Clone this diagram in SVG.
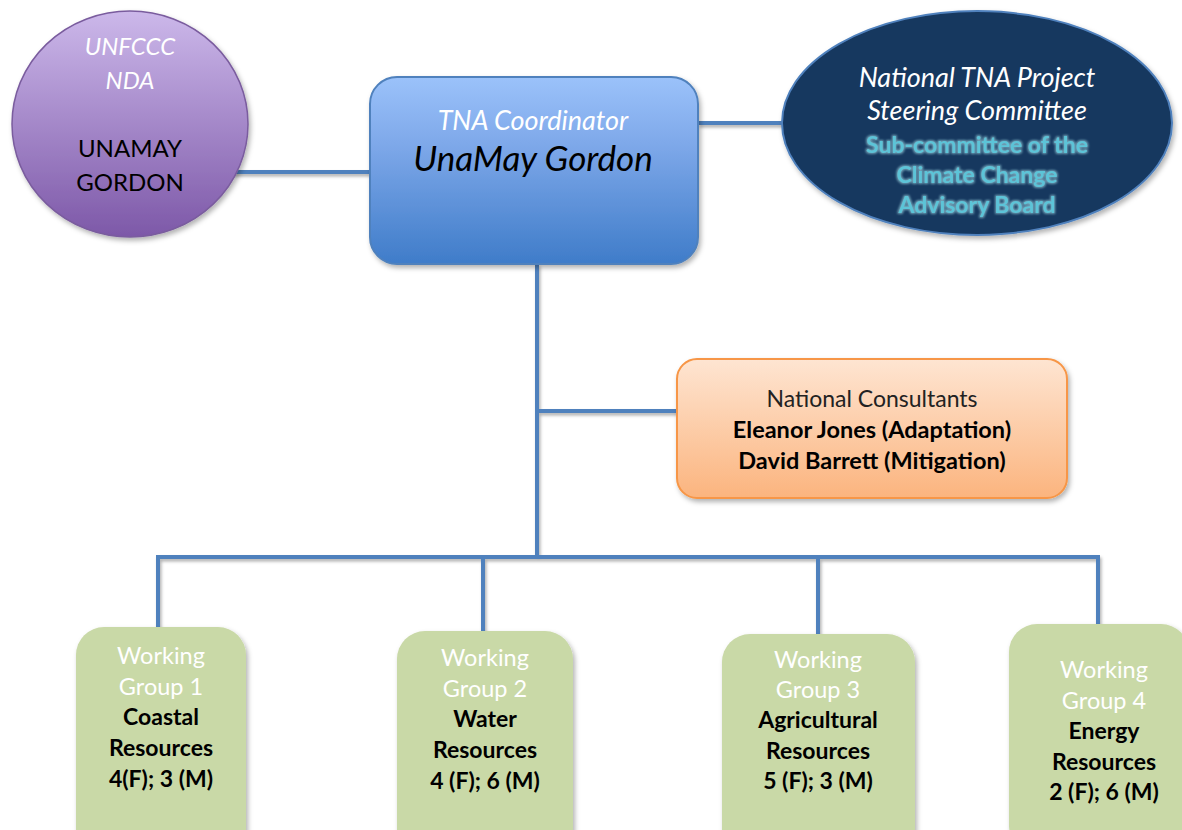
<svg xmlns="http://www.w3.org/2000/svg" width="1182" height="830" viewBox="0 0 1182 830">
<style>
.f{font-family:Lato,"Open Sans","Liberation Sans",sans-serif;text-anchor:middle}
.w{fill:#ffffff}
.k{fill:#000000}
.b{font-weight:bold}
.i{font-style:italic}
.conn{stroke:#4F81BD;stroke-width:4;fill:none}
.wg{fill:#C9D9A7;filter:url(#sh)}
.cy{fill:#5BC4D8;font-weight:bold;filter:url(#glow)}
</style>
<defs>
<linearGradient id="gp" x1="0" y1="0" x2="0" y2="1">
<stop offset="0" stop-color="#CCB8EA"/><stop offset="1" stop-color="#7D58A8"/>
</linearGradient>
<linearGradient id="gb" x1="0" y1="0" x2="0" y2="1">
<stop offset="0" stop-color="#9BC2FA"/><stop offset="0.35" stop-color="#7FA9EA"/><stop offset="1" stop-color="#3F7CC9"/>
</linearGradient>
<linearGradient id="go" x1="0" y1="0" x2="0" y2="1">
<stop offset="0" stop-color="#FEE5D2"/><stop offset="1" stop-color="#FBB47E"/>
</linearGradient>
<filter id="sh" x="-10%" y="-10%" width="130%" height="130%">
<feDropShadow dx="2" dy="3" stdDeviation="2.5" flood-color="#000" flood-opacity="0.3"/>
</filter>
<filter id="lsh" filterUnits="userSpaceOnUse" x="0" y="0" width="1182" height="830">
<feDropShadow dx="1.5" dy="2.5" stdDeviation="1.5" flood-color="#000" flood-opacity="0.3"/>
</filter>
<filter id="glow" x="-10%" y="-30%" width="120%" height="160%">
<feMorphology in="SourceAlpha" operator="dilate" radius="1" result="d"/>
<feGaussianBlur in="d" stdDeviation="1" result="bl"/>
<feFlood flood-color="#A8E4EE" flood-opacity="0.6"/>
<feComposite in2="bl" operator="in" result="g"/>
<feMerge><feMergeNode in="g"/><feMergeNode in="SourceGraphic"/></feMerge>
</filter>
</defs>

<g id="connectors" filter="url(#lsh)">
<line class="conn" x1="232" y1="172" x2="370" y2="172"/>
<line class="conn" x1="698" y1="123" x2="783" y2="123"/>
<line class="conn" x1="537" y1="264" x2="537" y2="557"/>
<line class="conn" x1="537" y1="411" x2="677" y2="411"/>
<polyline class="conn" points="158,628 158,557 1098,557 1098,624"/>
<line class="conn" x1="483" y1="557" x2="483" y2="631"/>
<line class="conn" x1="818" y1="557" x2="818" y2="634"/>
</g>

<g id="nda">
<ellipse cx="130" cy="124" rx="118" ry="113" fill="url(#gp)" stroke="#7A5C9E" stroke-width="1.5" filter="url(#sh)"/>
<text class="f w i" x="130" y="55" font-size="24">UNFCCC</text>
<text class="f w i" x="130" y="89" font-size="24">NDA</text>
<text class="f k" x="130" y="157" font-size="24">UNAMAY</text>
<text class="f k" x="130" y="191" font-size="24">GORDON</text>
</g>

<g id="coordinator">
<rect x="370" y="77" width="328" height="187" rx="27" fill="url(#gb)" stroke="#4F81BD" stroke-width="2" filter="url(#sh)"/>
<text class="f w i" x="533" y="130" font-size="27">TNA Coordinator</text>
<text class="f k i" x="533" y="171" font-size="35">UnaMay Gordon</text>
</g>

<g id="steering">
<ellipse cx="977" cy="123" rx="195" ry="112" fill="#17375E" stroke="#4F81BD" stroke-width="2" filter="url(#sh)"/>
<text class="f w i" x="977" y="87" font-size="27">National TNA Project</text>
<text class="f w i" x="977" y="120" font-size="27">Steering Committee</text>
<text class="f cy" x="977" y="153" font-size="23">Sub-committee of the</text>
<text class="f cy" x="977" y="183" font-size="23">Climate Change</text>
<text class="f cy" x="977" y="213" font-size="23">Advisory Board</text>
</g>

<g id="consultants">
<rect x="677" y="359" width="390" height="139" rx="20" fill="url(#go)" stroke="#F79646" stroke-width="2" filter="url(#sh)"/>
<text class="f" x="872" y="407" font-size="23" fill="#222">National Consultants</text>
<text class="f k b" x="872" y="438" font-size="23.5">Eleanor Jones (Adaptation)</text>
<text class="f k b" x="872" y="469" font-size="23.5">David Barrett (Mitigation)</text>
</g>

<g id="wg1">
<rect class="wg" x="76" y="627" width="170" height="230" rx="28"/>
<text class="f w" x="161" y="664" font-size="23.5">Working</text>
<text class="f w" x="161" y="695" font-size="23.5">Group 1</text>
<text class="f k b" x="161" y="725" font-size="23">Coastal</text>
<text class="f k b" x="161" y="756" font-size="23">Resources</text>
<text class="f k b" x="161" y="787" font-size="23">4(F); 3 (M)</text>
</g>

<g id="wg2">
<rect class="wg" x="397" y="631" width="176" height="230" rx="28"/>
<text class="f w" x="485" y="666" font-size="23.5">Working</text>
<text class="f w" x="485" y="697" font-size="23.5">Group 2</text>
<text class="f k b" x="485" y="727" font-size="23">Water</text>
<text class="f k b" x="485" y="758" font-size="23">Resources</text>
<text class="f k b" x="485" y="789" font-size="23">4 (F); 6 (M)</text>
</g>

<g id="wg3">
<rect class="wg" x="722" y="634" width="193" height="230" rx="28"/>
<text class="f w" x="818" y="668" font-size="23.5">Working</text>
<text class="f w" x="818" y="698" font-size="23.5">Group 3</text>
<text class="f k b" x="818" y="728" font-size="23">Agricultural</text>
<text class="f k b" x="818" y="759" font-size="23">Resources</text>
<text class="f k b" x="818" y="789" font-size="23">5 (F); 3 (M)</text>
</g>

<g id="wg4">
<rect class="wg" x="1009" y="624" width="180" height="230" rx="28"/>
<text class="f w" x="1104" y="678" font-size="23.5">Working</text>
<text class="f w" x="1104" y="709" font-size="23.5">Group 4</text>
<text class="f k b" x="1104" y="739" font-size="23">Energy</text>
<text class="f k b" x="1104" y="770" font-size="23">Resources</text>
<text class="f k b" x="1104" y="800" font-size="23">2 (F); 6 (M)</text>
</g>
</svg>
